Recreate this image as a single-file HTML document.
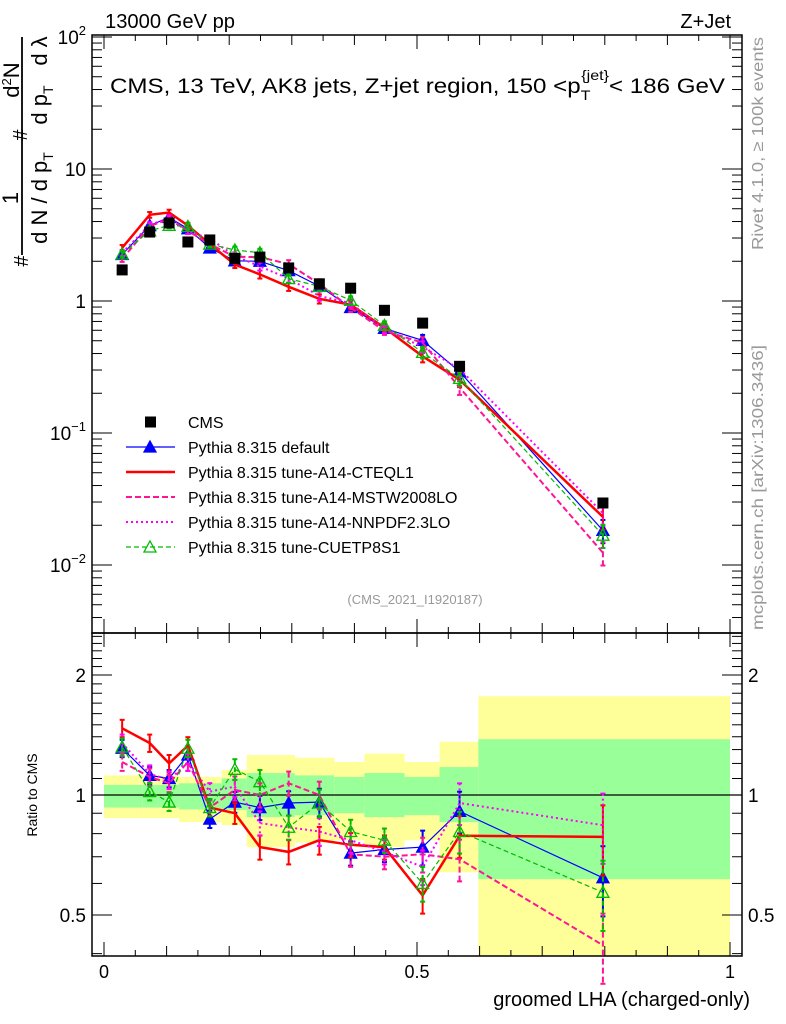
<!DOCTYPE html>
<html><head><meta charset="utf-8"><style>
html,body{margin:0;padding:0;background:#fff;}
svg{display:block;font-family:"Liberation Sans",sans-serif;}
</style></head><body>
<svg id="c" width="786" height="1024" viewBox="0 0 786 1024" xmlns="http://www.w3.org/2000/svg">
<g id="bands"></g>
<g id="axes"></g>
<g id="marks"></g>
<text x="105" y="28" font-size="20" textLength="130" lengthAdjust="spacingAndGlyphs">13000 GeV pp</text>
<text x="731" y="28" font-size="20" text-anchor="end">Z+Jet</text>
<text x="110" y="93" font-size="21" textLength="615" lengthAdjust="spacingAndGlyphs">CMS, 13 TeV, AK8 jets, Z+jet region, 150 &lt;p<tspan font-size="14" dy="7">T</tspan><tspan font-size="14" dx="-8" dy="-20">{jet}</tspan><tspan dy="13">&lt; 186 GeV</tspan></text>
<text x="415" y="604" font-size="13" fill="#999" text-anchor="middle">(CMS_2021_I1920187)</text>
<text transform="translate(763,250) rotate(-90)" font-size="16" fill="#999" textLength="213" lengthAdjust="spacingAndGlyphs">Rivet 4.1.0, ≥ 100k events</text>
<text transform="translate(763,630) rotate(-90)" font-size="16" fill="#999" textLength="285" lengthAdjust="spacingAndGlyphs">mcplots.cern.ch [arXiv:1306.3436]</text>
<g font-size="22" text-anchor="middle">
<line x1="22" y1="37" x2="22" y2="255" stroke="#000" stroke-width="1.8"/>
<text transform="translate(28,261) rotate(-90)" font-size="20">#</text>
<text transform="translate(18,198) rotate(-90)">1</text>
<text transform="translate(27,135) rotate(-90)" font-size="20">#</text>
<text transform="translate(19,80) rotate(-90)">d<tspan font-size="13" dy="-8">2</tspan><tspan dy="8">N</tspan></text>
<text transform="translate(47,198) rotate(-90)">d N / d p<tspan font-size="14" dy="6">T</tspan></text>
<text transform="translate(47,105) rotate(-90)">d p<tspan font-size="14" dy="6">T</tspan></text>
<text transform="translate(47,51) rotate(-90)">d λ</text>
</g>
<text transform="translate(37,795) rotate(-90)" font-size="14" text-anchor="middle">Ratio to CMS</text>
<text x="750" y="1006" font-size="20" text-anchor="end">groomed LHA (charged-only)</text>
<g id="legend"></g>
</svg>
<script>
const xPts=[0.029,0.073,0.104,0.134,0.169,0.209,0.249,0.295,0.344,0.394,0.448,0.509,0.568,0.797];
const cmsVals=[1.72,3.33,3.9,2.8,2.9,2.1,2.15,1.78,1.35,1.25,0.85,0.68,0.32,0.0295];
const ratioDefault=[1.31,1.12,1.10,1.26,0.87,0.96,0.93,0.955,0.96,0.715,0.73,0.74,0.91,0.62];
const ratioCTEQ=[1.47,1.35,1.20,1.33,0.93,0.90,0.74,0.72,0.77,0.75,0.74,0.56,0.79,0.785];
const ratioMSTW=[1.21,1.11,1.07,1.21,0.93,1.03,1.00,1.07,1.00,0.71,0.70,0.71,0.69,0.42];
const ratioNNPDF=[1.35,1.13,1.09,1.21,1.02,1.05,0.85,0.83,0.81,0.77,0.72,0.66,0.955,0.84];
const ratioCUETP=[1.32,1.02,0.96,1.31,0.93,1.16,1.08,0.83,0.955,0.81,0.77,0.60,0.81,0.57];
const relErr=[0.05,0.05,0.05,0.05,0.05,0.06,0.07,0.07,0.08,0.07,0.07,0.1,0.12,0.2];
const bandEdges=[0,0.061,0.120,0.188,0.228,0.305,0.368,0.416,0.480,0.536,0.598,1.0];
const yellowHi=[1.12,1.12,1.11,1.155,1.26,1.24,1.21,1.27,1.21,1.36,1.77];
const yellowLo=[0.875,0.875,0.855,0.84,0.74,0.76,0.77,0.74,0.77,0.64,0.38];
const greenHi=[1.06,1.06,1.07,1.10,1.135,1.12,1.11,1.135,1.11,1.175,1.38];
const greenLo=[0.93,0.93,0.92,0.917,0.88,0.89,0.90,0.88,0.89,0.855,0.615];
const xTickLabels=["0","0.5","1"];
const xTickVals=[0,0.5,1];

const NS="http://www.w3.org/2000/svg";
const L=92,R=742,T=35,M=633,B=956;
const X=v=>104+v*626;
const YM=v=>301-132*Math.log10(v);
const YR=v=>795-120*Math.log2(v);
function mk(tag,attrs,parent){const e=document.createElementNS(NS,tag);for(const k in attrs)e.setAttribute(k,attrs[k]);parent.appendChild(e);return e;}
const axes=document.getElementById('axes'),marks=document.getElementById('marks'),bands=document.getElementById('bands'),legend=document.getElementById('legend');

for(let i=0;i<bandEdges.length-1;i++){
 const x1=X(bandEdges[i]),x2=X(bandEdges[i+1]);
 const yb=Math.min(YR(yellowLo[i]),B);
 let r=mk('rect',{x:x1,y:YR(yellowHi[i]),width:x2-x1,height:yb-YR(yellowHi[i]),fill:'#ffff99'},bands);
 
 
 r=mk('rect',{x:x1,y:YR(greenHi[i]),width:x2-x1,height:YR(greenLo[i])-YR(greenHi[i]),fill:'#99ff99'},bands);
 
 
}
mk('line',{x1:L,x2:R,y1:YR(1),y2:YR(1),stroke:'#000','stroke-width':1.2},bands);

mk('rect',{x:L,y:T,width:R-L,height:M-T,fill:'none',stroke:'#000','stroke-width':1.5},axes);
mk('rect',{x:L,y:M,width:R-L,height:B-M,fill:'none',stroke:'#000','stroke-width':1.5},axes);
for(let k=0;k<=20;k++){const v=k*0.05,x=X(v);const len=(k%10==0)?14:(k%2==0?10:6);
 for(const [y0,d] of [[T,1],[M,-1],[M,1],[B,-1]]) mk('line',{x1:x,x2:x,y1:y0,y2:y0+d*len,stroke:'#000','stroke-width':1},axes);}
xTickVals.forEach((v,i)=>{const t=mk('text',{x:X(v),y:978,'font-size':18,'text-anchor':'middle'},axes);t.textContent=xTickLabels[i];});
for(let e=-3;e<=2;e++){for(let m=1;m<10;m++){const v=m*Math.pow(10,e);const y=YM(v);if(y<T||y>M)continue;const len=m==1?20:10;
 mk('line',{x1:L,x2:L+len,y1:y,y2:y,stroke:'#000'},axes);mk('line',{x1:R,x2:R-len,y1:y,y2:y,stroke:'#000'},axes);}}
const decLabels=[["10","−2"],["10","−1"],["1",""],["10",""],["10","2"]];
[-2,-1,0,1,2].forEach((e,i)=>{const y=YM(Math.pow(10,e));const t=mk('text',{x:86,y:y+7,'font-size':19,'text-anchor':'end'},axes);
 t.appendChild(document.createTextNode(decLabels[i][0]));
 if(decLabels[i][1]){const s=mk('tspan',{dy:-9,'font-size':13},t);s.textContent=decLabels[i][1];}
 });
const rt=[0.4,0.5,0.6,0.7,0.8,0.9,1,1.1,1.2,1.3,1.4,1.5,1.6,1.7,1.8,1.9,2,2.1,2.2,2.3,2.4,2.5];
rt.forEach(v=>{const y=YR(v);if(y<M||y>B)return;const len=(v==0.5||v==1||v==2)?20:10;
 mk('line',{x1:L,x2:L+len,y1:y,y2:y,stroke:'#000'},axes);mk('line',{x1:R,x2:R-len,y1:y,y2:y,stroke:'#000'},axes);});
[["2",2],["1",1],["0.5",0.5]].forEach(([s,v])=>{for(const [x,a] of [[86,'end'],[748,'start']]){const t=mk('text',{x:x,y:YR(v)+7,'font-size':19,'text-anchor':a},axes);t.textContent=s;}});

const series=[
 {name:'pythia-default',ratio:ratioDefault,color:'#0000ff',w:1.2,dash:'',marker:'tri',fill:true,label:'Pythia 8.315 default'},
 {name:'pythia-cteql1',ratio:ratioCTEQ,color:'#ff0000',w:2.5,dash:'',marker:'none',label:'Pythia 8.315 tune-A14-CTEQL1'},
 {name:'pythia-mstw2008lo',ratio:ratioMSTW,color:'#ff1493',w:2,dash:'6,3',marker:'none',label:'Pythia 8.315 tune-A14-MSTW2008LO'},
 {name:'pythia-nnpdf23lo',ratio:ratioNNPDF,color:'#ff00ff',w:2,dash:'2,3',marker:'none',label:'Pythia 8.315 tune-A14-NNPDF2.3LO'},
 {name:'pythia-cuetp8s1',ratio:ratioCUETP,color:'#00bb00',w:1.2,dash:'5,3',marker:'tri',fill:false,label:'Pythia 8.315 tune-CUETP8S1'}
];
function tri(g,x,y,s){return mk('path',{d:`M${x},${y-6}L${x+6},${y+5}L${x-6},${y+5}Z`,fill:s.fill?s.color:'none',stroke:s.color,'stroke-width':1.3},g);}
series.forEach(s=>{
 for(const panel of ['main','ratio']){
  const Y=panel=='main'?YM:YR;
  const vals=s.ratio.map((r,i)=>panel=='main'?r*cmsVals[i]:r);
  const g=mk('g',{},marks);
  
  
  const d=vals.map((v,i)=>(i?'L':'M')+X(xPts[i]).toFixed(1)+','+Y(v).toFixed(1)).join('');
  mk('path',{d:d,fill:'none',stroke:s.color,'stroke-width':s.w,'stroke-dasharray':s.dash},g);
  vals.forEach((v,i)=>{const x=X(xPts[i]);const y1=Y(v*(1+relErr[i])),y2=Y(v*(1-relErr[i]));
   mk('line',{x1:x,x2:x,y1:y1,y2:y2,stroke:s.color,'stroke-width':2,'stroke-dasharray':s.dash},g);
   mk('line',{x1:x-2.5,x2:x+2.5,y1:y1,y2:y1,stroke:s.color,'stroke-width':2},g);
   mk('line',{x1:x-2.5,x2:x+2.5,y1:y2,y2:y2,stroke:s.color,'stroke-width':2},g);
   if(s.marker=='tri'){const p=tri(g,x,Y(v),s);}
  });
 }
});
const cg=mk('g',{},marks);


cmsVals.forEach((v,i)=>{const r=mk('rect',{x:X(xPts[i])-5.5,y:YM(v)-5.5,width:11,height:11,fill:'#000'},cg);
 
 });

const ly0=422,ldy=25;
const lc=mk('rect',{x:145,y:ly0-5.5,width:11,height:11,fill:'#000'},legend);


let lt=mk('text',{x:188,y:ly0+6,'font-size':16},legend);lt.textContent='CMS';


series.forEach((s,k)=>{const y=ly0+ldy*(k+1);
 const ln=mk('line',{x1:126,x2:175,y1:y,y2:y,stroke:s.color,'stroke-width':s.w,'stroke-dasharray':s.dash},legend);
 
 
 if(s.marker=='tri')tri(legend,150,y,s);
 const t=mk('text',{x:188,y:y+6,'font-size':16},legend);t.textContent=s.label;
 
 
});
</script>
</body></html>
